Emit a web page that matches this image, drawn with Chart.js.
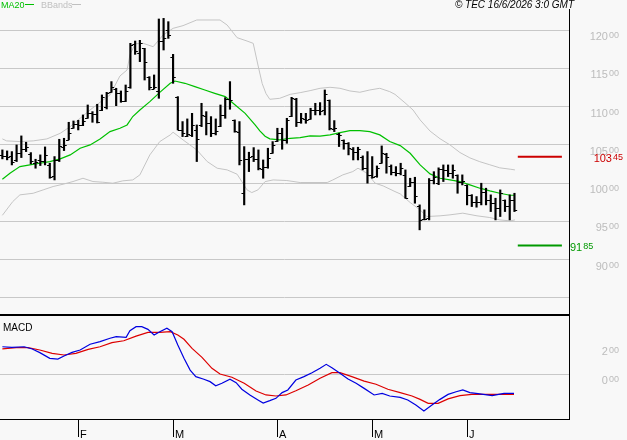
<!DOCTYPE html>
<html>
<head>
<meta charset="utf-8">
<script src="https://cdn.jsdelivr.net/npm/chart.js@4.4.1/dist/chart.umd.min.js"></script>
<style>
  html, body { margin: 0; padding: 0; background: #f8f8f8; }
  #wrap { position: relative; width: 627px; height: 440px; overflow: hidden; }
  canvas { position: absolute; left: 0; }
</style>
</head>
<body>
<div id="wrap">
  <canvas id="priceChart" width="627" height="316" style="top:0"></canvas>
  <canvas id="macdChart" width="627" height="124" style="top:316px"></canvas>
</div>
<script>
// daily bars, index 0 = first visible session (mid January)
const opens = [10370,10360,10350,10300,10400,10440,10380,10260,10300,10290,
  10240,10090,10300,10470,10570,10720,10770,10760,10850,10920,
  10900,10960,11000,11190,11235,11180,11070,11250,11820,11700,
  11760,11390,11230,11200,11850,12000,11650,11120,10700,10620,
  10630,10700,10760,10880,10790,10660,10740,10890,11100,10820,
  10670,9870,10310,10350,10320,10190,10210,10399,10550,10660,
  10560,10880,11095,10800,10840,10840,10950,10960,10950,11080,
  10710,10640,10560,10520,10450,10410,10345,10195,10100,10090,
  10260,10380,10220,10150,10130,10110,9960,10020,9700,9530,
  9540,10040,10000,10180,10170,10130,10100,10020,9970,9850,
  9760,9760,9890,9780,9740,9670,9780,9700,9780];
const highs = [10434,10421,10412,10499,10617,10534,10399,10312,10369,10473,
  10260,10347,10573,10586,10795,10812,10821,10891,11021,10934,
  11030,11152,11186,11326,11239,11204,11282,11826,11856,11865,
  11761,11391,11413,12144,12152,12109,11682,11130,10804,10839,
  10912,10760,11043,10934,10869,10839,11021,11117,11326,10826,
  10804,10477,10404,10464,10434,10303,10456,10543,10717,10717,
  10847,11121,11108,10912,10912,10978,11043,11052,11217,11086,
  10817,10652,10565,10530,10465,10469,10356,10412,10347,10225,
  10486,10390,10238,10216,10260,10173,10064,10077,9716,9651,
  10060,10150,10200,10238,10238,10238,10108,10108,9977,9850,
  9825,9999,9934,9847,9803,9912,9781,9847,9868];
const lows = [10317,10304,10238,10282,10334,10412,10251,10195,10230,10238,
  10064,10042,10282,10425,10565,10717,10695,10751,10847,10795,
  10786,10947,10969,11186,11012,11056,11065,11239,11682,11587,
  11347,11217,11230,11108,11739,11891,11304,10695,10608,10608,
  10608,10282,10738,10630,10608,10630,10738,10847,10965,10665,
  10238,9716,10151,10282,10173,10064,10195,10390,10543,10443,
  10521,10869,10739,10782,10782,10834,10891,10891,10891,10695,
  10673,10478,10443,10369,10303,10303,10173,10000,10064,10077,
  10260,10130,10108,10095,10108,9803,9955,9738,9390,9520,
  9520,9990,9980,10021,10086,10064,9868,9977,9716,9694,
  9686,9716,9716,9629,9520,9564,9629,9520,9629];
const closes = [10350,10340,10282,10400,10440,10470,10290,10280,10285,10370,
  10080,10300,10480,10500,10650,10775,10760,10810,10920,10900,
  10800,11130,11180,11260,11180,11070,11200,11810,11720,11830,
  11580,11250,11260,11850,11890,11940,11380,10700,10650,10640,
  10760,10580,10890,10780,10650,10680,10890,11100,11090,10675,
  10300,10310,10345,10320,10200,10210,10325,10500,10660,10565,
  10825,11110,10800,10850,10830,10950,10960,10945,11170,10715,
  10720,10630,10520,10456,10410,10440,10200,10100,10085,10195,
  10390,10345,10150,10130,10200,9810,10020,9830,9520,9530,
  10040,10080,10180,10170,10130,10170,10020,10030,9850,9760,
  9760,9890,9780,9740,9673,9870,9700,9780,9651];

// MA20 (session index, value)
const maIdx = [0,1.6,3.7,5.8,7.9,10,12.2,14.3,16.4,18.5,20.6,22.7,24.8,26.3,27.5,29,31.1,33.2,35.4,36.4,
  38.5,40.6,42.7,44.8,47,49.1,51.2,53.3,54.3,55.4,56.4,58.5,60.7,62.8,64.9,67,69.1,71.2,73.3,75.4,
  77.5,79.6,81.7,83.9,86,88.1,90.2,92.3,94.4,96.5,98.6,100.7,102.8,104.9,107.1,108.1];
const maVals = [10051,10130,10216,10238,10260,10282,10317,10369,10456,10499,10578,10673,10717,10760,10870,10956,11065,11186,11304,11334,
  11304,11260,11217,11173,11130,11021,10912,10760,10682,10612,10578,10565,10586,10595,10617,10613,10630,10660,10686,10686,
  10673,10630,10543,10490,10390,10238,10121,10064,10042,10021,9977,9934,9899,9868,9842,9842];

// Bollinger bands
const upIdx = [0,0.9,3.7,6.5,9.4,12.2,14.3,16.4,18.5,20.6,22.7,24.8,26.3,26.9,28,29.7,31.8,33.9,36,38.1,
  41,45.9,47.4,49.5,51.6,52.9,53.9,54.8,55.6,56.4,58.5,60.7,62.8,64.9,67,69.1,71.2,73.3,75.4,77.5,
  79.6,81.7,82.8,84.9,86.6,88.1,90.2,92.3,94.4,96.5,98.6,100.7,102.8,104.9,107.1,108.1];
const upVals = [10578,10552,10543,10552,10578,10651,10738,10847,10956,11056,11152,11400,11478,11674,11820,11826,11782,11935,12022,12057,
  12131,12131,12065,11900,11856,11826,11543,11300,11170,11095,11108,11160,11182,11208,11239,11252,11239,11204,11187,11217,
  11239,11195,11160,11050,10956,10826,10680,10580,10500,10400,10330,10280,10240,10200,10182,10173];
const loIdx = [0,2.2,3.7,6.5,8.6,10.7,12.8,14.9,17,19.1,21.2,23.3,25.4,27.5,29,31.1,33.2,35.4,36,38.1,
  41,43.2,45.3,47.4,49.5,50.5,51.6,52.6,53.9,55.4,57.1,60,62.8,68.5,69.7,71.8,73.9,75,76.9,78.6,
  80.3,82.8,83.9,86,88.1,89.5,92.3,94.4,97.1,100.1,102.8,104.9,107.1,108.1];
const loVals = [9580,9760,9847,9868,9912,9956,9986,10021,10064,10021,10012,9999,10030,10042,10108,10369,10543,10630,10665,10565,
  10434,10282,10195,10173,10117,10021,9912,9877,9912,10020,10042,10034,10008,10008,10042,10108,10151,10195,10130,10000,
  9964,9890,9860,9747,9651,9564,9573,9586,9608,9573,9551,9520,9507,9520];

// MACD and signal
const macdIdx = [0,2,4.6,6.3,7.9,10,11.7,13,14.7,16.4,18.5,20.6,22.7,24,26.1,26.9,28.2,29.4,30.7,32,
  33.2,34.7,35.8,37,38.3,39.6,40.8,42.5,43.8,45,46.3,48,49.3,50.5,52.2,53.9,55,56.4,57.7,59,
  60.2,61.9,63.6,65.3,67,68.3,69.5,71.2,72.9,74.6,76.3,78.4,80.1,81.7,83.9,85.5,87.2,88.9,90.6,92.3,
  94,95.7,97.1,98.6,100.3,103.3,105.8,107.9];
const macdVals = [188,184,188,173,148,109,104,125,150,166,205,223,246,257,252,298,325,325,307,268,
  291,314,291,200,109,29,-16,-34,-50,-78,-61,-34,-57,-102,-141,-175,-196,-180,-164,-125,
  -107,-39,-16,11,41,68,45,7,-32,-61,-96,-141,-130,-148,-157,-175,-209,-250,-209,-171,
  -137,-119,-107,-125,-132,-146,-130,-130];
const sigIdx = [0,2.9,5.4,7.9,10.5,13,15.5,18.1,20.6,23.1,25.6,28.2,30.7,33.2,35.4,37,38.3,40,42.1,44.2,
  45.9,48.4,51,53.5,55.6,57.7,59.8,61.9,64.5,67,69.5,71.2,73.7,76.3,78.8,81.3,83.9,86.4,88.1,89.8,
  91.9,94,96.5,99,103.3,107.9];
const sigVals = [173,182,182,166,143,132,143,170,188,216,229,261,286,286,291,268,239,177,116,41,
  2,-20,-61,-114,-141,-148,-141,-112,-73,-27,11,11,-16,-46,-68,-102,-125,-148,-171,-198,
  -198,-168,-146,-137,-137,-137];

// levels
const resistance = 10345, support = 9185;
const levelFrom = 108.7, levelTo = 118;
const resistanceLabel = '103|45', supportLabel = '91|85';

// axes
const xMin = -0.5, xMax = 119.5;
const priceMin = 8291, priceMax = 12392;
const priceTicks = [8500, 9000, 9500, 10000, 10500, 11000, 11500, 12000];
const priceTickLabels = ['', '90|00', '95|00', '100|00', '105|00', '110|00', '115|00', '120|00'];
const macdMin = -305, macdMax = 398;
const macdTicks = [0, 200];
const macdTickLabels = ['0|00', '2|00'];
const monthIdx = [16, 36, 58, 78, 98];
const monthLabels = ['F', 'M', 'A', 'M', 'J'];

const FONT = '"Liberation Sans", Arial, sans-serif';
Chart.defaults.font.family = FONT;

const pts = (xs, ys) => xs.map((x, i) => ({ x: x, y: ys[i] }));

function splitLabel(ctx, label, x, base, color, rightAlign) {
    const parts = label.split('|');
    ctx.fillStyle = color;
    ctx.textAlign = 'left';
    ctx.textBaseline = 'alphabetic';
    ctx.font = '11px ' + FONT;
    const mw = ctx.measureText(parts[0]).width;
    ctx.font = '9px ' + FONT;
    const sw = ctx.measureText(parts[1]).width;
    const x0 = rightAlign ? x - mw - 1 - sw : x;
    ctx.font = '11px ' + FONT;
    ctx.fillText(parts[0], x0, base);
    ctx.font = '9px ' + FONT;
    ctx.fillText(parts[1], x0 + mw + 1, base - 2);
}

const ohlcTicks = {
    id: 'ohlcTicks',
    afterDatasetsDraw(chart) {
        const { ctx, scales: { x, y } } = chart;
        ctx.save();
        ctx.strokeStyle = '#000';
        ctx.lineWidth = 1.2;
        ctx.beginPath();
        opens.forEach((o, i) => {
            const px = x.getPixelForValue(i);
            const yo = Math.round(y.getPixelForValue(o)) + 0.5;
            const yc = Math.round(y.getPixelForValue(closes[i])) + 0.5;
            ctx.moveTo(px - 2.7, yo); ctx.lineTo(px, yo);
            ctx.moveTo(px, yc); ctx.lineTo(px + 2.7, yc);
        });
        ctx.stroke();
        ctx.restore();
    }
};

const priceDecor = {
    id: 'priceDecor',
    afterDraw(chart) {
        const { ctx, chartArea, scales: { y } } = chart;
        ctx.save();
        // separator and right border
        ctx.fillStyle = '#000';
        ctx.fillRect(0, chartArea.bottom, chartArea.right + 1, 2);
        ctx.fillRect(chartArea.right, 9, 1, chartArea.bottom - 9);
        // price labels
        priceTicks.forEach((v, i) => {
            if (!priceTickLabels[i]) return;
            const py = y.getPixelForValue(v);
            splitLabel(ctx, priceTickLabels[i], 619, py + 10, '#bcbcbc', true);
        });
        // level labels
        splitLabel(ctx, resistanceLabel, 623, y.getPixelForValue(resistance) + 5, '#cc0000', true);
        splitLabel(ctx, supportLabel, 570, y.getPixelForValue(support) + 5, '#009900', false);
        // legend
        ctx.font = '9px ' + FONT;
        ctx.textAlign = 'left';
        ctx.fillStyle = '#00c000';
        ctx.fillText('MA20', 1, 8);
        ctx.fillRect(25, 4, 9, 1);
        ctx.fillStyle = '#c0c0c0';
        ctx.fillText('BBands', 41, 8);
        ctx.fillRect(72, 4, 9, 1);
        // stamp
        ctx.font = 'italic 10px ' + FONT;
        ctx.fillStyle = '#000';
        ctx.textAlign = 'right';
        ctx.fillText('\u00a9 TEC 16/6/2026 3:0 GMT', 574, 8);
        ctx.restore();
    }
};

const macdDecor = {
    id: 'macdDecor',
    afterDraw(chart) {
        const { ctx, chartArea, scales: { x, y } } = chart;
        ctx.save();
        ctx.fillStyle = '#000';
        ctx.fillRect(0, chartArea.bottom, chartArea.right + 1, 1);
        ctx.fillRect(chartArea.right, 0, 1, chartArea.bottom);
        macdTicks.forEach((v, i) => {
            splitLabel(ctx, macdTickLabels[i], 619, y.getPixelForValue(v) + 10, '#bcbcbc', true);
        });
        ctx.fillStyle = '#000';
        ctx.font = '10px ' + FONT;
        ctx.textAlign = 'left';
        ctx.fillText('MACD', 3, 15);
        ctx.font = '11px ' + FONT;
        monthIdx.forEach((m, i) => {
            const px = Math.round(x.getPixelForValue(m));
            ctx.fillRect(px, chartArea.bottom, 1, 18);
            ctx.fillText(monthLabels[i], px + 2, chartArea.bottom + 19);
        });
        ctx.restore();
    }
};

const xScale = {
    type: 'linear', min: xMin, max: xMax, offset: false,
    display: false
};

new Chart(document.getElementById('priceChart'), {
    type: 'bar',
    data: {
        datasets: [
            { type: 'bar', data: highs.map((h, i) => ({ x: i, y: [lows[i], h] })),
              backgroundColor: '#000', borderWidth: 0, barThickness: 1.5, order: 0 },
            { type: 'line', data: pts(maIdx, maVals), borderColor: '#00c000', borderWidth: 1.2,
              pointRadius: 0, tension: 0, order: 1 },
            { type: 'line', data: pts(upIdx, upVals), borderColor: '#c4c4c4', borderWidth: 1,
              pointRadius: 0, tension: 0, order: 2 },
            { type: 'line', data: pts(loIdx, loVals), borderColor: '#c4c4c4', borderWidth: 1,
              pointRadius: 0, tension: 0, order: 2 },
            { type: 'line', data: [{ x: levelFrom, y: resistance }, { x: levelTo, y: resistance }],
              borderColor: '#cc0000', borderWidth: 2, pointRadius: 0, order: 1 },
            { type: 'line', data: [{ x: levelFrom, y: support }, { x: levelTo, y: support }],
              borderColor: '#009900', borderWidth: 2, pointRadius: 0, order: 1 }
        ]
    },
    options: {
        responsive: false, animation: false, devicePixelRatio: 1,
        layout: { padding: { left: 0, right: 0, top: 0, bottom: 2 } },
        plugins: { legend: { display: false }, tooltip: { enabled: false } },
        scales: {
            x: xScale,
            y: {
                type: 'linear', position: 'right', min: priceMin, max: priceMax,
                afterFit(s) { s.width = 58; },
                afterBuildTicks(s) { s.ticks = priceTicks.map(v => ({ value: v })); },
                ticks: { display: false },
                grid: { color: '#c8c8c8', drawTicks: false },
                border: { display: false }
            }
        }
    },
    plugins: [ohlcTicks, priceDecor]
});

new Chart(document.getElementById('macdChart'), {
    type: 'line',
    data: {
        datasets: [
            { data: pts(macdIdx, macdVals), borderColor: '#0000e0', borderWidth: 1.2, pointRadius: 0, order: 0 },
            { data: pts(sigIdx, sigVals), borderColor: '#dd0000', borderWidth: 1.2, pointRadius: 0, order: 1 }
        ]
    },
    options: {
        responsive: false, animation: false, devicePixelRatio: 1,
        layout: { padding: 0 },
        plugins: { legend: { display: false }, tooltip: { enabled: false } },
        scales: {
            x: {
                type: 'linear', min: xMin, max: xMax, offset: false, position: 'bottom',
                afterFit(s) { s.height = 21; },
                ticks: { display: false }, grid: { display: false }, border: { display: false }
            },
            y: {
                type: 'linear', position: 'right', min: macdMin, max: macdMax,
                afterFit(s) { s.width = 58; },
                afterBuildTicks(s) { s.ticks = macdTicks.map(v => ({ value: v })); },
                ticks: { display: false },
                grid: { color: c => c.tick && c.tick.value === 0 ? '#c8c8c8' : 'rgba(0,0,0,0)', drawTicks: false },
                border: { display: false }
            }
        }
    },
    plugins: [macdDecor]
});
</script>
</body>
</html>
